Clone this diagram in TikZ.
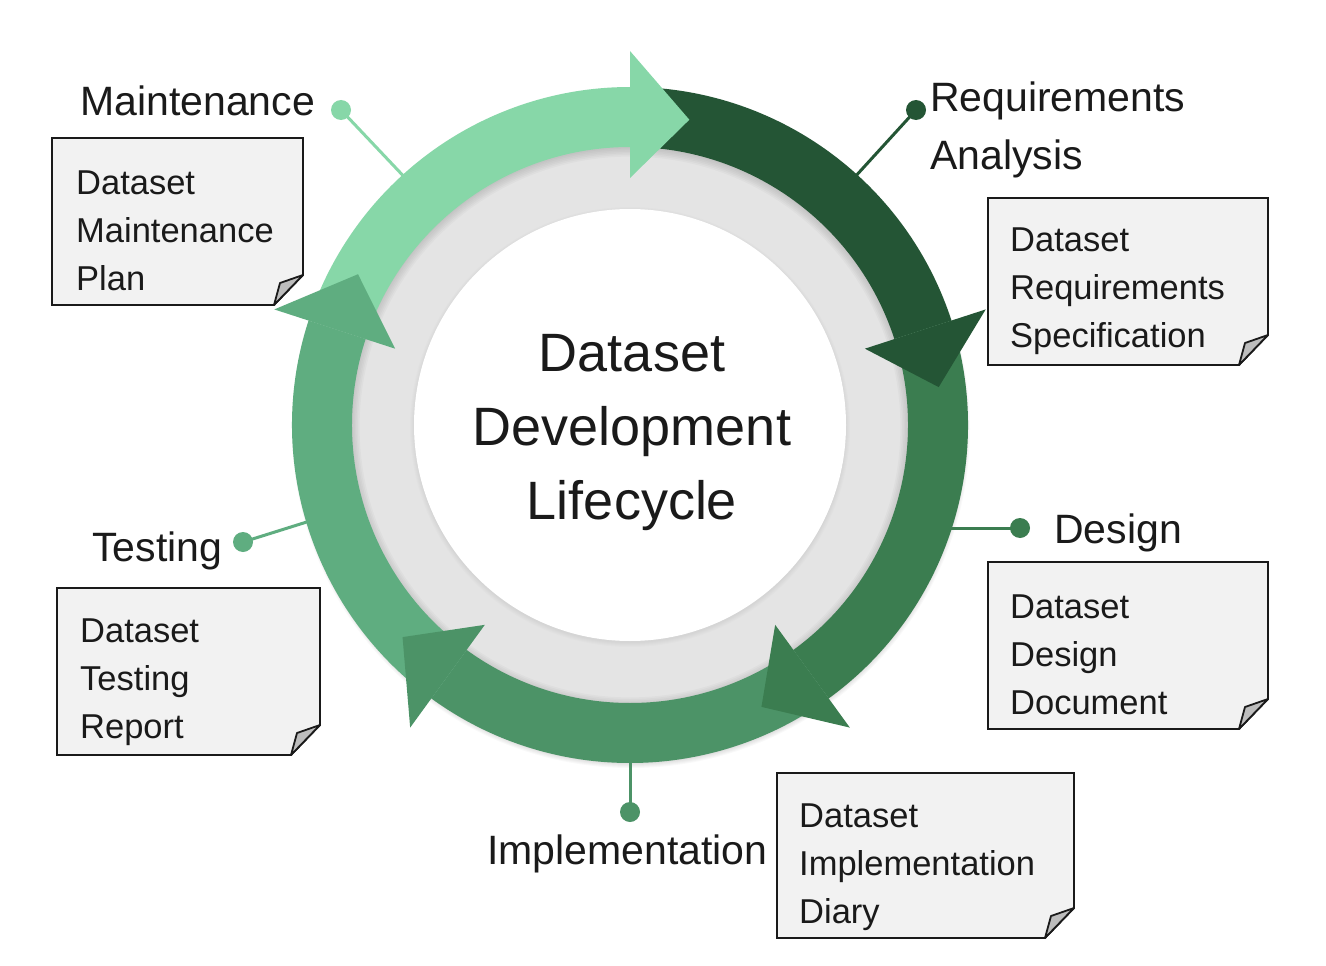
\documentclass[tikz,border=0pt]{standalone}
\usepackage{fontspec}
\setmainfont{Liberation Sans}
\usetikzlibrary{calc}
\definecolor{cMaint}{HTML}{87D7A8}
\definecolor{cReq}{HTML}{245535}
\definecolor{cDes}{HTML}{3B7D50}
\definecolor{cImpl}{HTML}{4C9367}
\definecolor{cTest}{HTML}{5FAD80}
\definecolor{cGray}{HTML}{E4E4E4}
\definecolor{cBox}{HTML}{F2F2F2}
\definecolor{cFold}{HTML}{BDBDBD}
\definecolor{cInk}{HTML}{1A1A1A}
\newcommand\ringband[3]{\fill[#1] (#2:338) arc[start angle=#2,end angle=#3,radius=338] -- (#3:278) arc[start angle=#3,end angle=#2,radius=278] -- cycle;}
\newcommand\ringhead[2]{\fill[#1] (#2:247) -- (#2:374) -- ({#2-11}:311) -- cycle;}
\newcommand\docbox[4]{%
  \draw[docline, fill=cBox] (#1,-#2) -- (#3,-#2) -- (#3,{-(#4-30)}) -- ({#3-29},-#4) -- (#1,-#4) -- cycle;
  \draw[docline, fill=cFold, line join=round] (#3,{-(#4-30)}) -- ({#3-29},-#4) -- ({#3-23},{-(#4-22)}) -- cycle;}
\tikzset{
  docline/.style={draw=cInk, line width=1.8pt},
  dotnode/.style={circle, minimum size=20pt, inner sep=0pt},
  conn/.style={line width=3pt},
  lab/.style={font=\fontsize{41}{58}\selectfont, inner sep=0pt, text=cInk, align=left},
  boxtxt/.style={font=\fontsize{34.5}{48}\selectfont, inner sep=0pt, text=cInk, align=left},
}
\begin{document}
\begin{tikzpicture}[x=1pt,y=1pt]
\useasboundingbox (0,0) rectangle (1326,-966);
\fill[white] (0,0) rectangle (1326,-966);
\coordinate (C) at (630,-425);
% outer soft shadow
\foreach \i in {1,...,8} \fill[black,opacity=0.022] ($(C)+(1,-4)$) circle ({331+\i});
% gray ring
\fill[cGray] (C) circle (280);
\foreach \i in {1,...,6} \fill[black,opacity=0.025,even odd rule] (C) circle (280) ($(C)+(0,-2)$) circle ({280-\i*1.6});
\foreach \i in {1,...,5} \fill[black,opacity=0.012] ($(C)+(0,-2)$) circle ({215+\i});
\fill[white] (C) circle (216);
% arrows
\begin{scope}[shift={(C)}]
\ringband{cMaint}{162}{90}
\ringband{cReq}{90}{18}
\ringband{cDes}{18}{-54}
\ringband{cImpl}{-54}{-126}
\ringband{cTest}{-126}{-198}
\ringhead{cMaint}{90}
\ringhead{cReq}{18}
\ringhead{cDes}{-54}
\ringhead{cImpl}{-126}
\ringhead{cTest}{-198}
\end{scope}
% connectors
\node[dotnode, fill=cMaint] (mdot) at (341,-110) {};
\coordinate (mring) at ($(C)+(132.3:336)$);
\draw[conn, cMaint] (mring) -- (mdot.center);
\node[dotnode, fill=cReq] (rdot) at (916,-110) {};
\coordinate (rring) at ($(C)+(47.8:336)$);
\draw[conn, cReq] (rring) -- (rdot.center);
\node[dotnode, fill=cDes] (ddot) at (1020,-528) {};
\coordinate (dring) at (948,-528);
\draw[conn, cDes] (dring) -- (ddot.center);
\node[dotnode, fill=cImpl] (idot) at (630,-812) {};
\coordinate (iring) at (630,-760);
\draw[conn, cImpl] (iring) -- (idot.center);
\node[dotnode, fill=cTest] (tdot) at (243,-542) {};
\coordinate (tring) at ($(C)+(196.7:336)$);
\draw[conn, cTest] (tring) -- (tdot.center);
% labels
\node[lab, anchor=west] (lmaint) at (80,-101) {Maintenance};
\node[lab, anchor=west] (lreq) at (930,-130) {Requirements\\Analysis};
\node[lab, anchor=west] (ldes) at (1054,-533) {Design};
\node[lab, anchor=west] (limpl) at (487,-854) {Implementation};
\node[lab, anchor=west] (ltest) at (92,-551) {Testing};
% center title
\node[font=\fontsize{54}{74}\selectfont, align=center, inner sep=0pt, text=cInk] (title) at (632,-433) {Dataset\\Development\\Lifecycle};
% documents
\docbox{52}{138}{303}{305}
\node[boxtxt, anchor=west] (bmaint) at (76,-231) {Dataset\\Maintenance\\Plan};
\docbox{988}{198}{1268}{365}
\node[boxtxt, anchor=west] (breq) at (1010,-291) {Dataset\\Requirements\\Specification};
\docbox{988}{562}{1268}{729}
\node[boxtxt, anchor=west] (bdes) at (1010,-655) {Dataset\\Design\\Document};
\docbox{777}{773}{1074}{938}
\node[boxtxt, anchor=west] (bimpl) at (799,-867) {Dataset\\Implementation\\Diary};
\docbox{57}{588}{320}{755}
\node[boxtxt, anchor=west] (btest) at (80,-682) {Dataset\\Testing\\Report};
\end{tikzpicture}
\end{document}
